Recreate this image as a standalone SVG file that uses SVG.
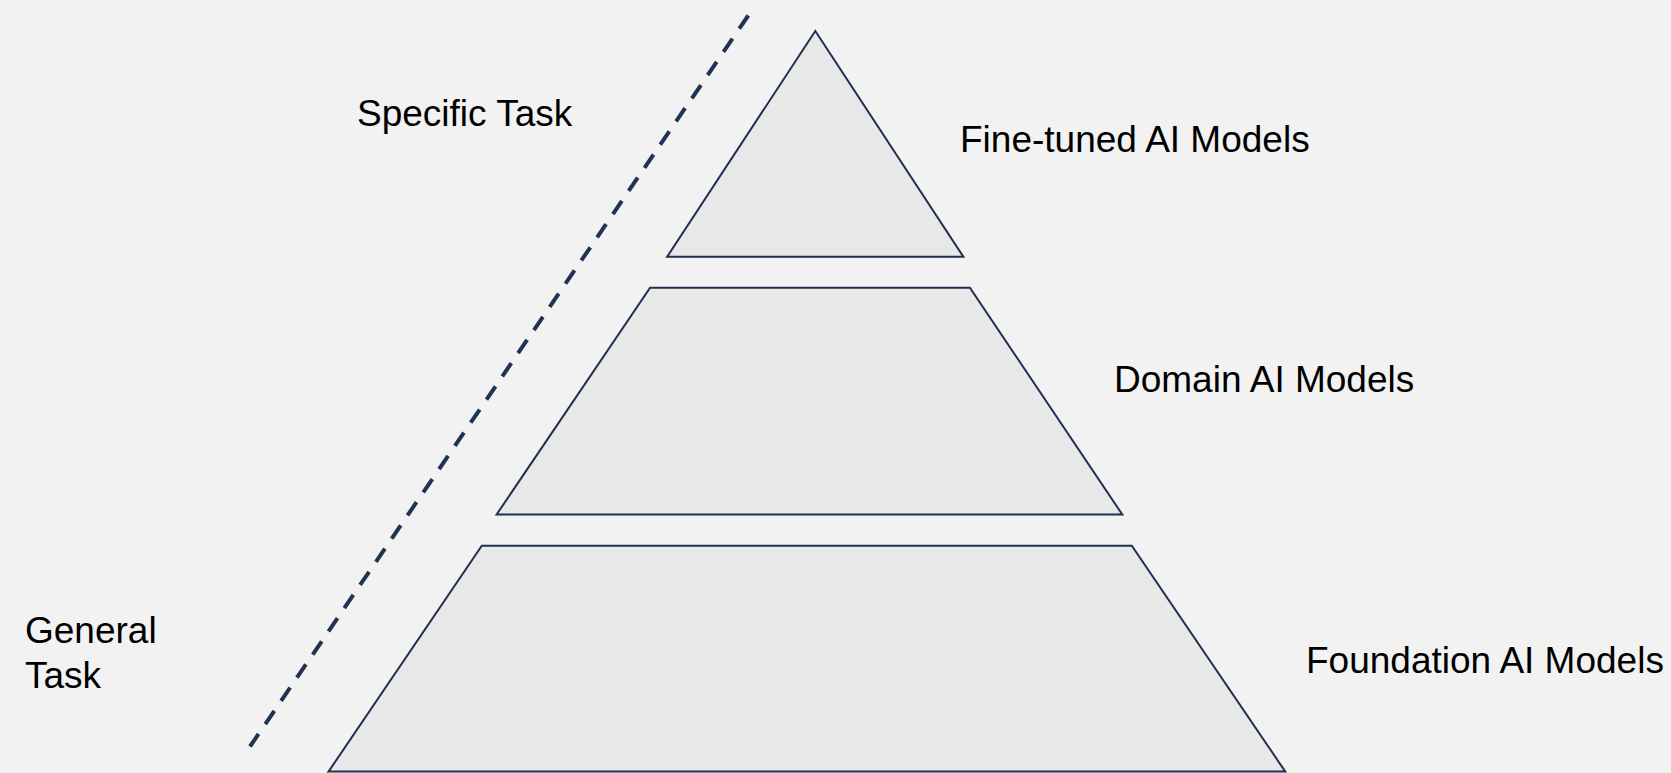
<svg xmlns="http://www.w3.org/2000/svg" width="1671" height="773" viewBox="0 0 1671 773">
  <style>
    .tier { fill: #e8e8e8; stroke: #1f3050; stroke-width: 2; stroke-linejoin: miter; }
    .label { font-family: "Liberation Sans", Arial, sans-serif; font-size: 37px; fill: #000000; }
    .axis { stroke: #203352; stroke-width: 4; stroke-dasharray: 16 12.05; fill: none; }
  </style>
  <rect x="0" y="0" width="1671" height="773" fill="#f2f2f2"/>

  <g id="connectors">
    <line class="axis" x1="748.3" y1="15.5" x2="250" y2="746.5"/>
  </g>

  <g id="fine-tuned">
    <polygon class="tier" points="815.3,31 963.4,256.8 667.1,256.8"/>
    <text class="label" x="960" y="152">Fine-tuned AI Models</text>
  </g>

  <g id="domain">
    <polygon class="tier" points="650.1,287.7 969.9,287.7 1122.3,514.5 496.6,514.5"/>
    <text class="label" x="1114" y="391.5">Domain AI Models</text>
  </g>

  <g id="foundation">
    <polygon class="tier" points="481.8,545.7 1131.8,545.7 1285.3,771.6 328.5,771.6"/>
    <text class="label" x="1306" y="673">Foundation AI Models</text>
  </g>

  <g id="specific-task">
    <text class="label" x="357" y="126">Specific Task</text>
  </g>

  <g id="general-task">
    <text class="label" x="25" y="643.3">General</text>
    <text class="label" x="25" y="688.3">Task</text>
  </g>
</svg>
